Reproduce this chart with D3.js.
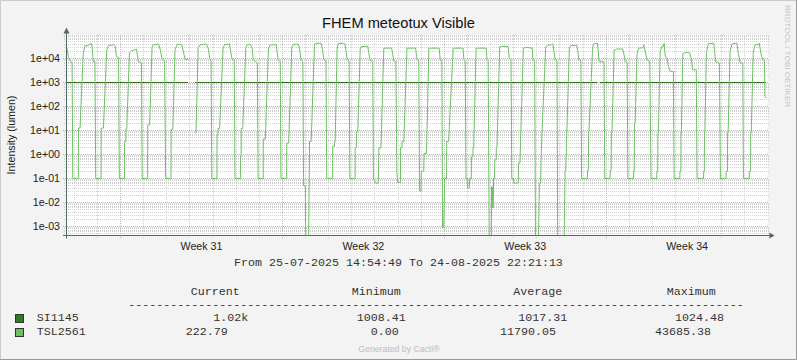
<!DOCTYPE html>
<html><head><meta charset="utf-8">
<script src="https://cdn.jsdelivr.net/npm/d3@7"></script>
<style>html,body{margin:0;padding:0;background:#F3F3F3}svg{display:block}</style>
</head><body><svg id="c" width="797" height="360"></svg>
<script>
// ---------------- data ----------------
const title = "FHEM meteotux Visible";
const yLabel = "Intensity (lumen)";
const rangeFrom = "2025-07-25 14:54:49";
const rangeTo = "2025-08-24 22:21:13";
const yTickValues = [1e-3, 1e-2, 1e-1, 1e0, 1e1, 1e2, 1e3, 1e4];
const yTickLabels = ["1e-03", "1e-02", "1e-01", "1e+00", "1e+01", "1e+02", "1e+03", "1e+04"];
const weekStarts = ["2025-07-28", "2025-08-04", "2025-08-11", "2025-08-18"];
const weekLabels = ["Week 31", "Week 32", "Week 33", "Week 34"];
const seriesNames = ["SI1145", "TSL2561"];
const seriesColors = ["#2E7D1E", "#6CC062"];
const legendHeader = ["Current", "Minimum", "Average", "Maximum"];
const legendSI = ["1.02k", "1008.41", "1017.31", "1024.48"];
const legendTSL = ["222.79", "0.00", "11790.05", "43685.38"];

// SI1145 (null = no data)
const si1145 = [
 ["07-25 14:55",1020],["07-26 12:00",1022],["07-27 11:00",1022],["07-27 11:30",1009],["07-28 00:30",1009],
 ["07-28 01:00",1018],["07-30 22:30",1018],["07-30 22:40",null],["07-31 05:40",1020],["08-02 19:30",1020],
 ["08-02 20:30",960],["08-02 21:30",1016],["08-05 12:00",1016],["08-07 00:00",1012],["08-10 00:00",1010],
 ["08-12 00:00",1014],["08-15 00:00",1012],["08-17 14:40",1020],["08-17 14:50",null],["08-17 17:30",1021],
 ["08-18 12:00",1021],["08-18 14:00",1008],["08-20 12:00",1008],["08-22 00:00",1012],["08-22 12:00",1024],
 ["08-22 23:00",1024],["08-23 01:00",1015],["08-24 22:21",1020]
];

// TSL2561 (null = no data, 0 = zero reading)
const tsl2561 = [
 ["07-25 14:55",37000],["07-25 16:30",26000],["07-25 18:00",11000],["07-25 19:30",8500],["07-25 21:45",6500],["07-25 22:30",0.1],
 ["07-26 04:15",0.1],["07-26 04:20",12.6],["07-26 06:00",12.6],["07-26 09:15",15000],["07-26 11:00",34000],["07-26 14:30",34000],["07-26 16:15",41000],["07-26 18:00",41000],["07-26 18:45",23000],["07-26 19:45",7500],["07-26 21:30",7500],["07-26 22:15",0.1],
 ["07-27 03:50",0.1],["07-27 03:55",12.6],["07-27 06:15",12.6],["07-27 09:45",23000],["07-27 11:30",35000],["07-27 15:00",36000],["07-27 17:00",38000],["07-27 18:30",33000],["07-27 19:45",12000],["07-27 22:00",11000],["07-27 22:45",0.1],
 ["07-28 04:05",0.1],["07-28 04:10",3.5],["07-28 05:30",3.5],["07-28 05:40",12],["07-28 06:30",12],["07-28 09:15",17000],["07-28 11:45",22000],["07-28 15:15",23000],["07-28 16:15",25000],["07-28 17:00",19500],["07-28 18:30",7500],["07-28 21:45",6500],["07-28 22:30",0.1],
 ["07-29 04:10",0.1],["07-29 04:15",17],["07-29 06:15",17],["07-29 08:45",30000],["07-29 10:00",37000],["07-29 13:45",38000],["07-29 15:30",41000],["07-29 17:15",23000],["07-29 19:00",10000],["07-29 21:45",8000],["07-29 22:50",0.1],
 ["07-30 04:25",0.1],["07-30 04:30",11],["07-30 06:15",11],["07-30 08:35",23000],["07-30 10:25",36000],["07-30 12:00",40000],["07-30 15:35",37000],["07-30 17:10",20000],["07-30 19:00",9400],["07-30 21:45",9000],["07-30 22:30",null],
 ["07-31 05:40",8],["07-31 06:20",8],["07-31 08:35",27000],["07-31 10:25",37000],["07-31 14:00",39000],["07-31 17:15",40000],["07-31 19:00",27000],["07-31 20:45",9400],["07-31 22:00",8500],["07-31 22:45",0.1],
 ["08-01 04:05",0.1],["08-01 04:10",6.6],["08-01 05:10",6.6],["08-01 05:15",12],["08-01 06:50",12],["08-01 10:25",27000],["08-01 12:00",38000],["08-01 16:15",39000],["08-01 17:00",42000],["08-01 18:00",23000],["08-01 19:45",9400],["08-01 22:00",8500],["08-01 22:50",0.1],
 ["08-02 04:25",0.1],["08-02 04:30",0.8],["08-02 05:10",0.8],["08-02 05:15",12],["08-02 06:50",12],["08-02 10:00",27000],["08-02 11:30",37000],["08-02 15:00",38000],["08-02 16:40",27000],["08-02 17:40",9000],["08-02 22:00",6500],["08-02 22:50",0.1],
 ["08-03 04:05",0.1],["08-03 04:10",4.4],["08-03 06:15",4.4],["08-03 09:30",25000],["08-03 11:00",37000],["08-03 15:30",37000],["08-03 17:30",38000],["08-03 18:30",20000],["08-03 19:30",8500],["08-03 21:45",7500],["08-03 22:30",0.1],
 ["08-04 04:25",0.1],["08-04 04:30",3],["08-04 06:30",3],["08-04 09:45",30000],["08-04 11:30",39000],["08-04 15:00",39000],["08-04 16:30",40000],["08-04 18:00",22000],["08-04 19:15",9000],["08-04 21:15",7500],["08-04 22:00",0.05],["08-04 23:50",0.05],
 ["08-05 00:10",0],["08-05 03:10",0],["08-05 04:10",3.5],["08-05 05:50",3.5],["08-05 09:20",40000],["08-05 12:00",43000],["08-05 16:15",43000],["08-05 17:30",25000],["08-05 19:00",9000],["08-05 21:15",8000],["08-05 22:00",0.1],
 ["08-06 04:05",0.1],["08-06 04:10",2.2],["08-06 06:05",2.2],["08-06 06:15",3.5],["08-06 06:45",3.5],["08-06 08:45",25000],["08-06 10:00",42000],["08-06 14:30",43000],["08-06 17:00",40000],["08-06 18:00",20000],["08-06 19:15",9000],["08-06 21:15",8000],["08-06 22:00",0.1],
 ["08-07 03:25",0.1],["08-07 03:30",1.9],["08-07 04:45",1.9],["08-07 04:50",9],["08-07 06:15",9],["08-07 08:45",25000],["08-07 09:30",31000],["08-07 14:00",32000],["08-07 16:30",33000],["08-07 17:30",18000],["08-07 19:00",8500],["08-07 21:45",7500],["08-07 22:30",0.09],["08-07 23:50",0.09],
 ["08-08 00:10",0.065],["08-08 03:30",0.065],["08-08 04:10",1.9],["08-08 06:15",1.9],["08-08 09:15",27000],["08-08 16:00",27000],["08-08 17:15",28000],["08-08 18:30",15000],["08-08 19:30",8000],["08-08 21:45",7500],["08-08 22:45",0.18],["08-08 23:40",0.068],
 ["08-09 02:30",0.068],["08-09 02:40",1.9],["08-09 04:00",1.9],["08-09 04:10",3.5],["08-09 06:00",3.5],["08-09 09:15",27000],["08-09 18:15",27000],["08-09 19:15",12000],["08-09 20:00",8800],["08-09 21:30",8000],["08-09 22:20",0.03],["08-09 23:50",0.03],
 ["08-10 00:10",0.2],["08-10 02:40",0.2],["08-10 03:00",1.1],["08-10 05:30",1.1],["08-10 08:00",27000],["08-10 18:45",27000],["08-10 19:45",8800],["08-10 21:30",8000],["08-10 22:10",0.0009],["08-10 23:20",0.0009],
 ["08-11 00:30",0.1],["08-11 02:20",0.1],["08-11 02:30",3.5],["08-11 04:30",3.5],["08-11 09:15",27000],["08-11 19:30",27000],["08-11 20:15",9000],["08-11 21:45",8000],["08-11 22:30",0.1],["08-11 23:50",0.1],
 ["08-12 00:10",0.04],["08-12 01:50",0.04],["08-12 02:20",0.1],["08-12 04:00",0.1],["08-12 04:10",0.8],["08-12 05:40",0.8],["08-12 05:50",2],["08-12 06:30",2],["08-12 09:00",27000],["08-12 19:30",27000],["08-12 20:15",9000],["08-12 21:30",8000],["08-12 22:15",0.1],["08-12 22:40",0],
 ["08-13 00:50",0],["08-13 01:00",0.045],["08-13 01:50",0.045],["08-13 02:10",0.006],["08-13 02:50",0.006],["08-13 03:10",0.1],["08-13 04:10",0.1],["08-13 04:20",0.6],["08-13 05:50",0.6],["08-13 06:00",2],["08-13 06:40",2],["08-13 09:30",30000],["08-13 11:00",32000],["08-13 18:15",32000],["08-13 19:15",11000],["08-13 21:15",8500],["08-13 22:00",0.1],["08-13 23:50",0.1],
 ["08-14 00:10",0.065],["08-14 04:50",0.065],["08-14 05:00",0.44],["08-14 06:30",0.44],["08-14 10:00",27000],["08-14 13:30",29000],["08-14 19:15",27000],["08-14 20:00",9000],["08-14 21:45",8000],["08-14 22:40",0],
 ["08-15 01:40",0],["08-15 02:40",0.065],["08-15 04:00",0.065],["08-15 04:20",0.5],["08-15 05:20",8],["08-15 09:15",30000],["08-15 11:00",36000],["08-15 15:00",37000],["08-15 16:45",40000],["08-15 17:45",20000],["08-15 19:00",9000],["08-15 21:00",8000],["08-15 21:40",0],
 ["08-16 04:20",0],["08-16 05:20",0.22],["08-16 06:00",0.22],["08-16 09:45",28000],["08-16 11:30",35000],["08-16 15:30",35000],["08-16 17:15",37000],["08-16 18:30",22000],["08-16 19:30",9000],["08-16 21:45",8000],["08-16 22:30",0.1],
 ["08-17 04:35",0.1],["08-17 04:40",0.22],["08-17 05:30",0.22],["08-17 05:40",8],["08-17 06:00",8],["08-17 09:45",20000],["08-17 10:25",37000],["08-17 11:30",42000],["08-17 13:15",42000],["08-17 14:30",43685],["08-17 15:00",43000],["08-17 16:40",7500],["08-17 18:30",7500],["08-17 21:45",7000],["08-17 22:30",0.1],
 ["08-18 04:05",0.1],["08-18 04:10",0.22],["08-18 05:10",0.22],["08-18 05:20",8],["08-18 06:00",8],["08-18 08:15",23000],["08-18 10:00",23000],["08-18 11:00",25000],["08-18 17:00",25000],["08-18 18:40",14000],["08-18 19:40",7500],["08-18 21:45",7000],["08-18 22:30",0.1],
 ["08-19 04:25",0.1],["08-19 04:30",0.2],["08-19 05:10",0.2],["08-19 05:20",20],["08-19 06:00",20],["08-19 08:00",15000],["08-19 09:45",27000],["08-19 14:00",28000],["08-19 15:00",37000],["08-19 16:40",18000],["08-19 18:25",8800],["08-19 21:15",7500],["08-19 22:35",0.1],
 ["08-20 04:30",0.1],["08-20 04:35",0.2],["08-20 05:30",0.2],["08-20 05:40",8],["08-20 06:10",8],["08-20 08:00",20000],["08-20 09:50",32000],["08-20 11:25",32000],["08-20 12:10",43000],["08-20 13:15",12000],["08-20 14:55",11000],["08-20 16:40",4600],["08-20 18:25",2900],["08-20 21:45",2900],["08-20 22:30",0.1],
 ["08-21 04:25",0.1],["08-21 04:30",0.2],["08-21 05:30",0.2],["08-21 05:40",8],["08-21 06:00",8],["08-21 07:30",16000],["08-21 09:30",17000],["08-21 12:00",18000],["08-21 14:45",17000],["08-21 16:35",8800],["08-21 17:35",3400],["08-21 21:30",3400],["08-21 22:15",0.1],
 ["08-22 05:05",0.1],["08-22 05:10",0.2],["08-22 05:50",0.2],["08-22 06:00",8],["08-22 06:20",8],["08-22 08:00",18000],["08-22 09:30",35000],["08-22 10:25",42000],["08-22 15:35",43000],["08-22 16:35",20000],["08-22 17:20",7500],["08-22 21:30",6500],["08-22 22:30",0.1],
 ["08-23 04:25",0.1],["08-23 04:30",0.2],["08-23 05:50",0.2],["08-23 06:00",8],["08-23 06:30",8],["08-23 08:35",20000],["08-23 10:25",40000],["08-23 15:35",44000],["08-23 17:10",16000],["08-23 19:00",6500],["08-23 21:45",6500],["08-23 22:25",0.1],
 ["08-24 04:25",0.1],["08-24 04:30",0.2],["08-24 05:50",0.2],["08-24 06:00",8],["08-24 06:30",8],["08-24 08:35",18000],["08-24 10:25",37000],["08-24 13:45",38000],["08-24 14:45",43000],["08-24 17:15",12000],["08-24 19:00",8800],["08-24 20:15",8000],["08-24 20:45",260],["08-24 22:21",222.79]
];

// ---------------- drawing ----------------
const svg = d3.select("#c");
const W = 797, H = 360;
const full = d3.timeParse("%Y-%m-%d %H:%M:%S");
const day = d3.timeParse("%Y-%m-%d");
const p = d3.timeParse("%Y-%m-%d %H:%M");
const t0 = full(rangeFrom), t1 = full(rangeTo);
const toPts = arr => arr.map(d => ({t: p("2025-" + d[0]), v: d[1]}));
const siPts = toPts(si1145), tslPts = toPts(tsl2561);

const PL = 65.5, PR = 766.5, PT = 35, PB = 235.5;
const x = d3.scaleTime().domain([t0, t1]).range([PL, PR]);
const yMin = Math.pow(10, -3.375), yMax = Math.pow(10, 4.979);
const y = d3.scaleLog().domain([yMin, yMax]).range([PB, PT]);
const snap = v => Math.round(v - 0.5) + 0.5;

// background & frame
svg.append("rect").attr("width", W).attr("height", H).attr("fill", "#F3F3F3");
svg.append("path").attr("d", `M0.5,${H}V0.5H${W}`).attr("stroke", "#CBCBCB").attr("fill", "none");
svg.append("path").attr("d", `M0,${H-0.5}H${W-0.5}V0`).attr("stroke", "#999999").attr("fill", "none");
// canvas
svg.append("rect").attr("x", 66).attr("y", PT).attr("width", PR + 1 - 66).attr("height", PB - PT).attr("fill", "#FFFFFF");

const grid = svg.append("g").attr("shape-rendering", "crispEdges").attr("fill", "none");
// minor horizontal grid
const minorY = [];
for (let e = -4; e <= 5; e++) for (let k = 2; k <= 9; k++) { const v = k * Math.pow(10, e); if (v > yMin && v < yMax) minorY.push(v); }
grid.selectAll(".mhy").data(minorY).join("line")
  .attr("x1", 64).attr("x2", PR + 2).attr("y1", d => snap(y(d))).attr("y2", d => snap(y(d)))
  .attr("stroke", "#D0D0D0").attr("stroke-dasharray", "1,1");
// minor vertical grid (days)
const days = d3.timeDay.range(d3.timeDay.ceil(t0), t1);
grid.selectAll(".mvx").data(days.filter(d => d.getDay() !== 1)).join("line")
  .attr("x1", d => snap(x(d))).attr("x2", d => snap(x(d))).attr("y1", PT).attr("y2", PB + 2)
  .attr("stroke", "#D0D0D0").attr("stroke-dasharray", "1,1");
// major horizontal grid
grid.selectAll(".My").data(yTickValues).join("line")
  .attr("x1", 63).attr("x2", PR + 2).attr("y1", d => snap(y(d))).attr("y2", d => snap(y(d)))
  .attr("stroke", "#E3A3A3").attr("stroke-dasharray", "1,1");
// major vertical grid (Mondays)
const mondays = weekStarts.map(day);
grid.selectAll(".Mx").data(mondays).join("line")
  .attr("x1", d => snap(x(d))).attr("x2", d => snap(x(d))).attr("y1", PT).attr("y2", PB + 3)
  .attr("stroke", "#E3A3A3").attr("stroke-dasharray", "1,1");

// clip
svg.append("clipPath").attr("id", "plot").append("rect")
  .attr("x", PL).attr("y", PT - 1).attr("width", PR - PL + 1).attr("height", PB - PT + 1);

const line = d3.line().defined(d => d.v !== null)
  .x(d => x(d.t)).y(d => y(Math.max(d.v, yMin * 0.5)));

svg.append("path").datum(siPts).attr("clip-path", "url(#plot)").attr("shape-rendering", "crispEdges")
  .attr("d", line).attr("fill", "none").attr("stroke", "#2F6F1A").attr("stroke-width", 1);
svg.append("path").datum(tslPts).attr("clip-path", "url(#plot)")
  .attr("d", line).attr("fill", "none").attr("stroke", seriesColors[1]).attr("stroke-width", 1);

// axes
const axisC = "#4F6B61";
svg.append("line").attr("x1", 66.5).attr("x2", 66.5).attr("y1", PB + 3).attr("y2", 31).attr("stroke", axisC);
svg.append("line").attr("x1", 63).attr("x2", 770).attr("y1", PB).attr("y2", PB).attr("stroke", axisC);
svg.append("path").attr("d", "M63.5,33.5L69.5,33.5L66.5,27.5Z").attr("fill", axisC);
svg.append("path").attr("d", "M769.5,232.5L769.5,238.5L774.5,235.5Z").attr("fill", axisC);

const sans = "'Liberation Sans', Arial, sans-serif";
const mono = "'Liberation Mono', 'Courier New', monospace";

// y tick labels
svg.selectAll(".yl").data(yTickValues).join("text")
  .attr("x", 60).attr("y", d => y(d) + 3.8).attr("text-anchor", "end")
  .attr("font-family", sans).attr("font-size", 10.67).attr("fill", "#222")
  .text((d, i) => yTickLabels[i]);

// week labels
svg.selectAll(".wl").data(mondays).join("text")
  .attr("x", d => x(d3.timeHour.offset(d, 84))).attr("y", 249.5).attr("text-anchor", "middle")
  .attr("font-family", sans).attr("font-size", 10.67).attr("fill", "#222")
  .text((d, i) => weekLabels[i]);

// title
svg.append("text").attr("x", 398.5).attr("y", 28).attr("text-anchor", "middle")
  .attr("font-family", sans).attr("font-size", 14.67).attr("fill", "#111").text(title);
// y label
svg.append("text").attr("transform", "translate(14.5,135) rotate(-90)").attr("text-anchor", "middle")
  .attr("font-family", sans).attr("font-size", 10.67).attr("fill", "#222").text(yLabel);
// watermark
svg.append("text").attr("transform", "translate(785,5) rotate(90)")
  .attr("font-family", sans).attr("font-size", 8.1).attr("fill", "#C4C4C4").text("RRDTOOL / TOBI OETIKER");
svg.append("text").attr("x", 399).attr("y", 352).attr("text-anchor", "middle")
  .attr("font-family", sans).attr("font-size", 8.7).attr("fill", "#BDBDBD").text("Generated by Cacti\u00AE");

// time range line
const fmt = d3.timeFormat("%d-%m-%Y %H:%M:%S");
svg.append("text").attr("x", 398.5).attr("y", 266).attr("text-anchor", "middle")
  .attr("font-family", mono).attr("font-size", 11.67).attr("fill", "#333").attr("xml:space", "preserve")
  .text(`From ${fmt(t0)} To ${fmt(t1)}`);

// legend
const lg = svg.append("g").attr("font-family", mono).attr("font-size", 11.67).attr("fill", "#333");
const hdrX = [190.7, 351.7, 513.3, 666.7];
legendHeader.forEach((s, i) => lg.append("text").attr("x", hdrX[i]).attr("y", 294.5).text(s));
lg.append("text").attr("x", 128.3).attr("y", 307.5).text("-".repeat(88));
const rowY = [321, 335];
const valX = [[213.3, 356.7, 518.3, 675], [185.7, 370.7, 500, 655]];
[legendSI, legendTSL].forEach((vals, r) => {
  svg.append("rect").attr("x", 15.5).attr("y", rowY[r] - 6.5).attr("width", 8).attr("height", 8)
    .attr("fill", seriesColors[r]).attr("stroke", "#333").attr("shape-rendering", "crispEdges");
  lg.append("text").attr("x", 36.7).attr("y", rowY[r]).text(seriesNames[r]);
  vals.forEach((v, i) => lg.append("text").attr("x", valX[r][i]).attr("y", rowY[r]).text(v));
});
</script></body></html>
